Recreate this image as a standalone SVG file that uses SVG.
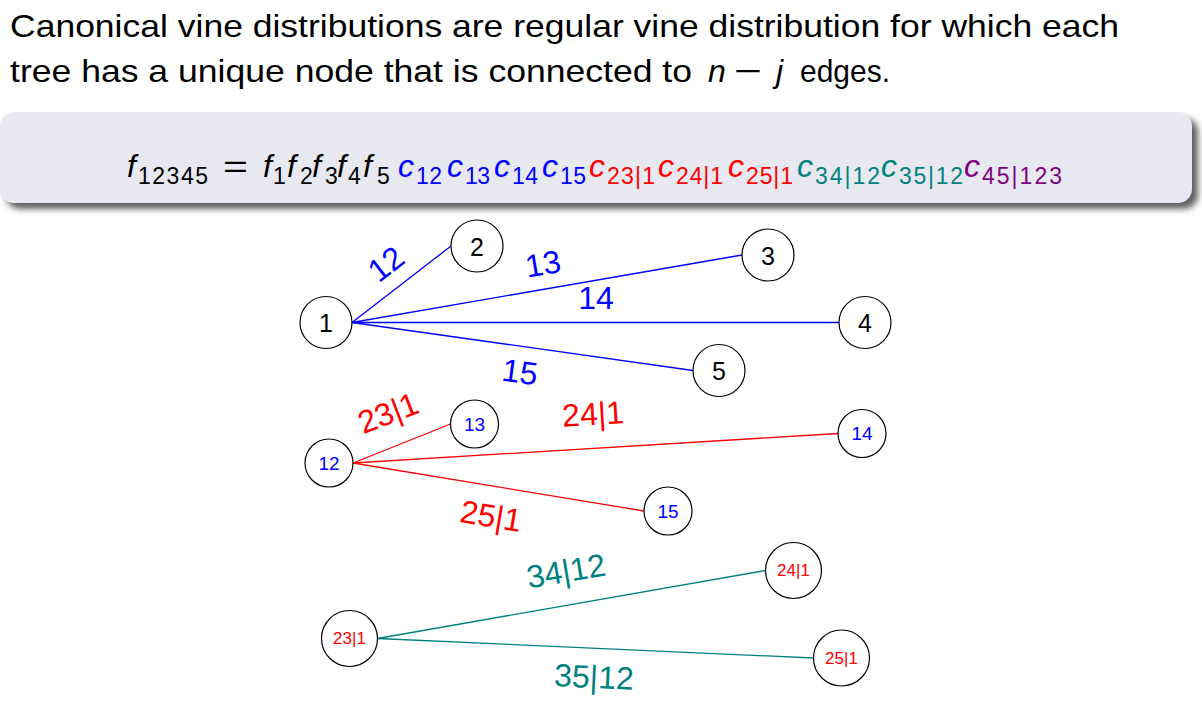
<svg xmlns="http://www.w3.org/2000/svg" width="1202" height="715" viewBox="0 0 1202 715">
<style>
  text { font-family: "Liberation Sans", Arial, sans-serif; }
  .head { font-size: 32px; fill: #000; }
  .it { font-style: italic; }
  .main { font-size: 32px; font-style: italic; }
  .sub { font-size: 23px; }
  .blue { fill: #0000ff; }
  .red { fill: #ff0000; }
  .teal { fill: #008080; }
  .purple { fill: #800080; }
  .blk { fill: #000; }
  .node { fill: #fff; stroke: #000; stroke-width: 1.2; }
  .nl1 { font-size: 25px; fill: #000; text-anchor: middle; dominant-baseline: central; }
  .nl2 { font-size: 19px; fill: #0000ff; text-anchor: middle; dominant-baseline: central; }
  .nl3 { font-size: 17px; fill: #ff0000; text-anchor: middle; dominant-baseline: central; }
  .el { font-size: 32px; text-anchor: middle; dominant-baseline: central; }
  .e1 { stroke: #0000ff; stroke-width: 1.3; fill: none; }
  .e2 { stroke: #ff0000; stroke-width: 1.3; fill: none; }
  .e3 { stroke: #008080; stroke-width: 1.3; fill: none; }
</style>
<defs>
  <filter id="shadow" x="-5%" y="-30%" width="115%" height="170%">
    <feGaussianBlur stdDeviation="3"/>
  </filter>
</defs>
<rect width="1202" height="715" fill="#fff"/>

<!-- heading -->
<g id="heading">
  <text class="head" x="10" y="37" textLength="1109" lengthAdjust="spacingAndGlyphs">Canonical vine distributions are regular vine distribution for which each</text>
  <text class="head" x="10" y="82" textLength="682" lengthAdjust="spacingAndGlyphs">tree has a unique node that is connected to</text>
  <text class="head it" x="708" y="82">n</text>
  <text class="head" x="734" y="82" textLength="28" lengthAdjust="spacingAndGlyphs">−</text>
  <text class="head it" x="776" y="82">j</text>
  <text class="head" x="800" y="82" textLength="90" lengthAdjust="spacingAndGlyphs">edges.</text>
</g>

<!-- formula box -->
<g id="formula">
  <rect x="6" y="118" width="1192" height="91" rx="14" fill="#444" opacity="0.85" filter="url(#shadow)"/>
  <rect x="0" y="112" width="1192" height="91" rx="14" fill="#e8e8f1"/>
  <text class="main blk" x="127" y="177">f</text>
  <text class="sub blk" x="138" y="184" textLength="70">12345</text>
  <text class="blk" x="223" y="177" font-size="32" textLength="25" lengthAdjust="spacingAndGlyphs">=</text>
  <text class="main blk" x="263" y="177">f</text><text class="sub blk" x="273" y="184">1</text>
  <text class="main blk" x="287" y="177">f</text><text class="sub blk" x="300" y="184">2</text>
  <text class="main blk" x="312" y="177">f</text><text class="sub blk" x="325" y="184">3</text>
  <text class="main blk" x="337" y="177">f</text><text class="sub blk" x="348" y="184">4</text>
  <text class="main blk" x="363" y="177">f</text><text class="sub blk" x="377" y="184">5</text>
  <text class="main blue" x="398" y="177">c</text><text class="sub blue" x="416" y="184" textLength="26">12</text>
  <text class="main blue" x="447" y="177">c</text><text class="sub blue" x="465" y="184" textLength="25">13</text>
  <text class="main blue" x="494" y="177">c</text><text class="sub blue" x="512" y="184" textLength="26">14</text>
  <text class="main blue" x="542" y="177">c</text><text class="sub blue" x="560" y="184" textLength="26">15</text>
  <text class="main red" x="589" y="177">c</text><text class="sub red" x="607" y="184" textLength="48">23|1</text>
  <text class="main red" x="658" y="177">c</text><text class="sub red" x="676" y="184" textLength="47">24|1</text>
  <text class="main red" x="728" y="177">c</text><text class="sub red" x="746" y="184" textLength="47">25|1</text>
  <text class="main teal" x="797" y="177">c</text><text class="sub teal" x="815" y="184" textLength="65">34|12</text>
  <text class="main teal" x="881" y="177">c</text><text class="sub teal" x="899" y="184" textLength="64">35|12</text>
  <text class="main purple" x="964" y="177">c</text><text class="sub purple" x="982" y="184" textLength="80">45|123</text>
</g>

<!-- connectors -->
<g id="connectors">
  <line class="e1" x1="352" y1="322.5" x2="451" y2="246"/>
  <line class="e1" x1="352" y1="322.5" x2="742" y2="255"/>
  <line class="e1" x1="352" y1="322.5" x2="839" y2="322.5"/>
  <line class="e1" x1="352" y1="322.5" x2="693" y2="370.5"/>
  <line class="e2" x1="353" y1="463" x2="450.5" y2="424"/>
  <line class="e2" x1="353" y1="463" x2="838" y2="433.5"/>
  <line class="e2" x1="353" y1="463" x2="644" y2="511"/>
  <line class="e3" x1="377.5" y1="638.5" x2="765.5" y2="570.5"/>
  <line class="e3" x1="377.5" y1="638.5" x2="813.5" y2="658"/>
  <text class="el blue" transform="translate(386,264) rotate(-38)">12</text>
  <text class="el blue" transform="translate(543,264) rotate(-9.5)">13</text>
  <text class="el blue" transform="translate(596,298)">14</text>
  <text class="el blue" transform="translate(520,372) rotate(7.8)">15</text>
  <text class="el red" transform="translate(388,413) rotate(-21)">23|1</text>
  <text class="el red" transform="translate(593,414) rotate(-3.4)">24|1</text>
  <text class="el red" transform="translate(491,516) rotate(9.6)">25|1</text>
  <text class="el teal" transform="translate(566,571) rotate(-9.6)">34|12</text>
  <text class="el teal" transform="translate(594,677) rotate(2.7)">35|12</text>
</g>

<!-- tree 1 -->
<g id="n1"><circle class="node" cx="326" cy="322.5" r="26"/><text class="nl1" x="326" y="323">1</text></g>
<g id="n2"><circle class="node" cx="477" cy="246" r="26"/><text class="nl1" x="477" y="247">2</text></g>
<g id="n3"><circle class="node" cx="768" cy="255" r="26"/><text class="nl1" x="768" y="256">3</text></g>
<g id="n4"><circle class="node" cx="865" cy="322.5" r="26"/><text class="nl1" x="865" y="323">4</text></g>
<g id="n5"><circle class="node" cx="719" cy="370.5" r="26"/><text class="nl1" x="719" y="371">5</text></g>

<!-- tree 2 -->
<g id="n12"><circle class="node" cx="329" cy="463" r="24"/><text class="nl2" x="329" y="463">12</text></g>
<g id="n13"><circle class="node" cx="474.5" cy="424" r="24"/><text class="nl2" x="474.5" y="424">13</text></g>
<g id="n14"><circle class="node" cx="862" cy="433.5" r="24"/><text class="nl2" x="862" y="433.5">14</text></g>
<g id="n15"><circle class="node" cx="668" cy="511" r="24"/><text class="nl2" x="668" y="511">15</text></g>

<!-- tree 3 -->
<g id="n231"><circle class="node" cx="349.5" cy="638.5" r="28"/><text class="nl3" x="349.5" y="638.5">23|1</text></g>
<g id="n241"><circle class="node" cx="793.5" cy="570.5" r="28"/><text class="nl3" x="793.5" y="570.5">24|1</text></g>
<g id="n251"><circle class="node" cx="841.5" cy="658" r="28"/><text class="nl3" x="841.5" y="658">25|1</text></g>
</svg>
